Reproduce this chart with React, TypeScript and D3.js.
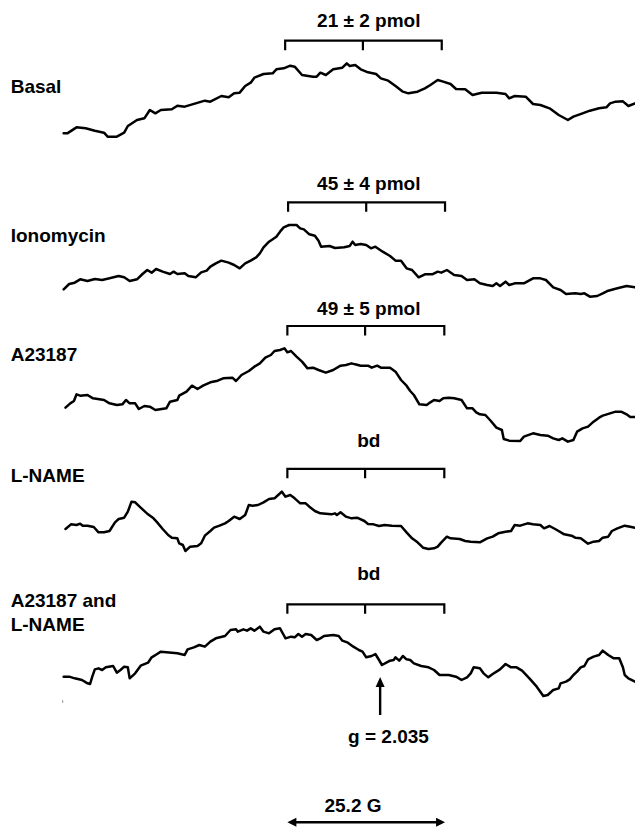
import React from "react";
import * as d3 from "d3";

// ---- Data (digitized readings: field position in digitizer units, signal in digitizer units, downward) ----
const FIELD_EXTENT: [number, number] = [0, 1568];

const BASAL: [number, number][] = [
  [10,340],[20,340],[45,322],[70,325],[95,332],[120,338],[130,350],[155,350],[175,338],[185,318],
  [210,300],[230,295],[245,270],[260,280],[275,270],[305,268],[320,257],[340,260],[370,250],[395,242],
  [410,245],[440,228],[460,232],[475,220],[490,218],[505,198],[520,188],[530,173],[555,162],[580,160],
  [590,148],[610,145],[628,137],[640,140],[660,165],[690,170],[700,170],[710,158],[725,165],[745,148],
  [770,143],[782,130],[790,138],[805,135],[820,148],[840,157],[862,162],[875,175],[895,182],[915,198],
  [935,215],[950,220],[975,215],[995,205],[1010,195],[1030,180],[1045,185],[1065,192],[1080,207],[1105,208],
  [1125,225],[1150,218],[1190,218],[1215,222],[1225,235],[1240,228],[1270,230],[1290,252],[1310,255],[1335,265],
  [1360,285],[1385,300],[1400,290],[1425,280],[1445,272],[1470,265],[1490,262],[1500,250],[1515,245],[1535,244],
  [1550,258],[1568,250],
];

const IONOMYCIN: [number, number][] = [
  [10,358],[25,342],[40,338],[55,328],[75,333],[95,327],[115,330],[135,325],[160,318],[175,322],
  [190,333],[210,328],[225,312],[238,300],[250,308],[262,297],[280,305],[300,312],[310,305],[320,312],
  [340,310],[350,318],[370,322],[385,307],[400,302],[410,290],[425,280],[440,272],[460,278],[475,285],
  [490,295],[505,280],[520,272],[535,262],[545,250],[555,232],[570,215],[590,200],[600,185],[610,172],
  [625,165],[645,165],[655,175],[665,178],[680,193],[695,197],[705,212],[712,230],[735,228],[750,234],
  [775,232],[790,228],[798,215],[805,225],[820,222],[835,225],[848,235],[860,230],[880,245],[900,258],
  [915,272],[930,272],[945,295],[960,300],[978,322],[995,313],[1015,313],[1030,305],[1040,308],[1055,300],
  [1075,315],[1095,318],[1110,330],[1130,328],[1145,340],[1165,345],[1180,348],[1190,340],[1200,348],[1215,335],
  [1225,345],[1240,340],[1265,340],[1290,325],[1310,325],[1325,330],[1345,352],[1365,360],[1380,372],[1405,370],
  [1420,372],[1430,370],[1445,380],[1465,378],[1480,370],[1495,362],[1520,355],[1545,348],[1568,352],
];

const A23187: [number, number][] = [
  [15,338],[28,325],[38,318],[45,298],[55,302],[75,300],[90,310],[120,315],[135,325],[155,330],
  [170,328],[180,315],[190,325],[205,325],[215,342],[230,333],[245,335],[260,345],[290,340],[300,320],
  [320,315],[325,302],[345,290],[360,272],[375,282],[390,272],[410,262],[430,257],[445,250],[470,248],
  [480,258],[495,240],[515,228],[530,215],[545,205],[560,188],[575,180],[585,168],[600,165],[612,160],
  [620,172],[630,168],[645,185],[660,200],[675,220],[690,218],[705,225],[725,233],[745,225],[765,212],
  [780,210],[795,205],[805,208],[820,212],[840,212],[850,218],[865,212],[875,218],[900,218],[915,230],
  [930,255],[945,272],[955,288],[965,300],[980,328],[1000,330],[1010,322],[1020,315],[1035,318],[1045,310],
  [1060,308],[1075,310],[1095,315],[1110,340],[1125,340],[1135,352],[1145,358],[1160,360],[1175,378],[1190,398],
  [1205,405],[1210,432],[1225,437],[1255,438],[1265,425],[1290,415],[1310,420],[1330,422],[1345,430],[1360,435],
  [1370,430],[1385,440],[1400,435],[1410,410],[1425,400],[1440,395],[1455,380],[1470,368],[1480,362],[1500,355],
  [1515,350],[1530,350],[1545,358],[1555,366],[1568,366],
];

const L_NAME: [number, number][] = [
  [15,252],[30,238],[45,240],[55,236],[62,242],[75,242],[92,246],[105,262],[120,262],[135,258],
  [150,232],[160,222],[175,218],[185,200],[195,170],[205,172],[220,188],[240,208],[255,220],[265,232],
  [280,252],[295,270],[305,278],[320,280],[325,295],[335,300],[342,318],[355,305],[375,303],[385,295],
  [395,272],[410,258],[420,248],[435,242],[450,235],[460,228],[475,215],[490,222],[505,210],[515,180],
  [525,182],[540,180],[555,172],[570,162],[585,160],[595,150],[605,140],[615,155],[628,150],[640,160],
  [655,175],[670,175],[680,185],[695,198],[710,205],[740,208],[750,205],[755,210],[765,202],[780,215],
  [795,220],[810,218],[830,228],[840,237],[855,238],[870,243],[885,240],[905,242],[930,243],[945,262],
  [960,280],[975,292],[990,308],[1005,312],[1020,310],[1030,305],[1040,292],[1055,275],[1065,280],[1090,282],
  [1105,288],[1120,290],[1145,292],[1165,280],[1180,275],[1195,265],[1215,260],[1230,258],[1240,240],[1255,242],
  [1275,235],[1290,238],[1310,240],[1320,250],[1335,243],[1355,255],[1375,268],[1395,272],[1405,278],[1420,280],
  [1440,296],[1455,290],[1470,288],[1480,278],[1495,275],[1505,258],[1520,250],[1540,242],[1555,245],[1568,248],
];

const A23187_L_NAME: [number, number][] = [
  [10,290],[25,290],[40,295],[60,300],[75,310],[82,312],[88,290],[95,268],[105,265],[115,270],
  [125,262],[145,258],[155,278],[165,270],[175,260],[185,262],[190,295],[205,280],[220,257],[240,248],
  [250,232],[265,222],[275,215],[305,218],[320,220],[340,225],[348,208],[365,202],[380,195],[395,200],
  [410,185],[425,175],[450,168],[465,150],[480,148],[485,155],[500,148],[510,152],[520,145],[530,152],
  [545,140],[555,155],[570,160],[585,148],[600,145],[610,165],[615,175],[630,170],[640,172],[650,162],
  [660,170],[670,162],[685,165],[700,180],[710,175],[720,168],[745,165],[760,168],[770,182],[785,188],
  [800,200],[815,210],[825,215],[835,232],[850,228],[860,222],[870,240],[878,255],[890,248],[900,242],
  [910,240],[915,232],[925,242],[935,228],[945,238],[955,240],[965,250],[985,258],[1005,262],[1020,270],
  [1035,285],[1060,285],[1080,290],[1095,300],[1110,292],[1120,280],[1128,262],[1145,265],[1155,280],[1168,292],
  [1180,282],[1200,268],[1215,252],[1230,262],[1245,262],[1260,272],[1280,295],[1300,320],[1318,348],[1330,345],
  [1345,330],[1360,325],[1365,310],[1380,305],[1390,298],[1400,285],[1410,275],[1420,262],[1430,258],[1440,238],
  [1455,230],[1470,225],[1480,212],[1495,225],[1510,235],[1525,235],[1535,262],[1540,285],[1550,295],[1568,305],
];

const LABELS: string[][] = [["Basal"], ["Ionomycin"], ["A23187"], ["L-NAME"], ["A23187 and", "L-NAME"]];
const AMOUNTS: string[] = ["21 ± 2 pmol", "45 ± 4 pmol", "49 ± 5 pmol", "bd", "bd"];
const TRACES = [BASAL, IONOMYCIN, A23187, L_NAME, A23187_L_NAME];
// bracket field positions (digitizer units): left, centre, right
const BRACKETS: [number, number, number][] = [
  [614, 826, 1041], [622, 835, 1050], [620, 832, 1048], [620, 832, 1048], [620, 832, 1048],
];
const G_MARK_FIELD = 873;
const G_VALUE_LABEL = "g = 2.035";
const SCALE_BAR_FIELD: [number, number] = [620, 1050];
const SCALE_BAR_LABEL = "25.2 G";

// ---- Layout ----
const W = 635, H = 828;
const PANEL_TOP = [20, 170, 295, 445, 580]; // pixel top of each trace's digitizer frame
const LABEL_BASELINES = [[92.7], [241.7], [361], [482], [607.3, 631]];
const AMOUNT_BASELINES = [26.5, 190, 315, 446.5, 580];
const BRACKET_Y = [40.7, 202.3, 326, 468.8, 604.3];
const TICK_LEN = 9.5;
const FONT = "'Liberation Sans', Arial, Helvetica, sans-serif";
const FS = 19;

export default function App() {
  const x = d3.scaleLinear().domain(FIELD_EXTENT).range([60, 635]);
  const yScales = PANEL_TOP.map((t) => d3.scaleLinear().domain([0, 3]).range([t, t + 1]));
  const textStyle = { fontFamily: FONT, fontWeight: 700, fontSize: FS, fill: "#000" } as const;

  const gx = x(G_MARK_FIELD);
  const gTip = 677, gBase = 715;
  const sb0 = x(SCALE_BAR_FIELD[0]), sb1 = x(SCALE_BAR_FIELD[1]);
  const sbY = 822.3;

  return (
    <svg width={W} height={H} style={{ position: "absolute", left: 0, top: 0, background: "#fff" }}>
      <rect x={0} y={0} width={W} height={H} fill="#fff" />
      {TRACES.map((tr, i) => {
        const y = yScales[i];
        const line = d3
          .line<[number, number]>()
          .x((d) => x(d[0]))
          .y((d) => y(d[1]))
          .curve(d3.curveLinear);
        const [b0, b1, b2] = BRACKETS[i].map((v) => x(v));
        const by = BRACKET_Y[i];
        return (
          <g key={i}>
            {LABELS[i].map((s, j) => (
              <text key={j} x={10.7} y={LABEL_BASELINES[i][j]} style={textStyle}>
                {s}
              </text>
            ))}
            <text x={x(842)} y={AMOUNT_BASELINES[i]} textAnchor="middle" style={textStyle}>
              {AMOUNTS[i]}
            </text>
            <path
              d={`M${b0},${by + TICK_LEN}V${by}H${b2}V${by + TICK_LEN}M${b1},${by}V${by + TICK_LEN}`}
              fill="none"
              stroke="#000"
              strokeWidth={2.2}
            />
            <path
              d={line(tr) || ""}
              fill="none"
              stroke="#000"
              strokeWidth={2.5}
              strokeLinejoin="round"
              strokeLinecap="round"
            />
          </g>
        );
      })}
      {/* small speck */}
      <line x1={62.7} x2={62.7} y1={700} y2={703} stroke="#999" strokeWidth={1} />
      {/* g marker */}
      <line x1={gx} x2={gx} y1={gTip + 8} y2={gBase} stroke="#000" strokeWidth={2.4} />
      <path d={`M${gx},${gTip}L${gx - 4.5},${gTip + 10}L${gx + 4.5},${gTip + 10}Z`} fill="#000" />
      <text x={388.5} y={742.7} textAnchor="middle" style={textStyle}>
        {G_VALUE_LABEL}
      </text>
      {/* scale bar */}
      <text x={353} y={811.7} textAnchor="middle" style={textStyle}>
        {SCALE_BAR_LABEL}
      </text>
      <line x1={sb0 + 7} x2={sb1 - 7} y1={sbY} y2={sbY} stroke="#000" strokeWidth={2.4} />
      <path d={`M${sb0},${sbY}L${sb0 + 9},${sbY - 4.5}L${sb0 + 9},${sbY + 4.5}Z`} fill="#000" />
      <path d={`M${sb1},${sbY}L${sb1 - 9},${sbY - 4.5}L${sb1 - 9},${sbY + 4.5}Z`} fill="#000" />
    </svg>
  );
}
